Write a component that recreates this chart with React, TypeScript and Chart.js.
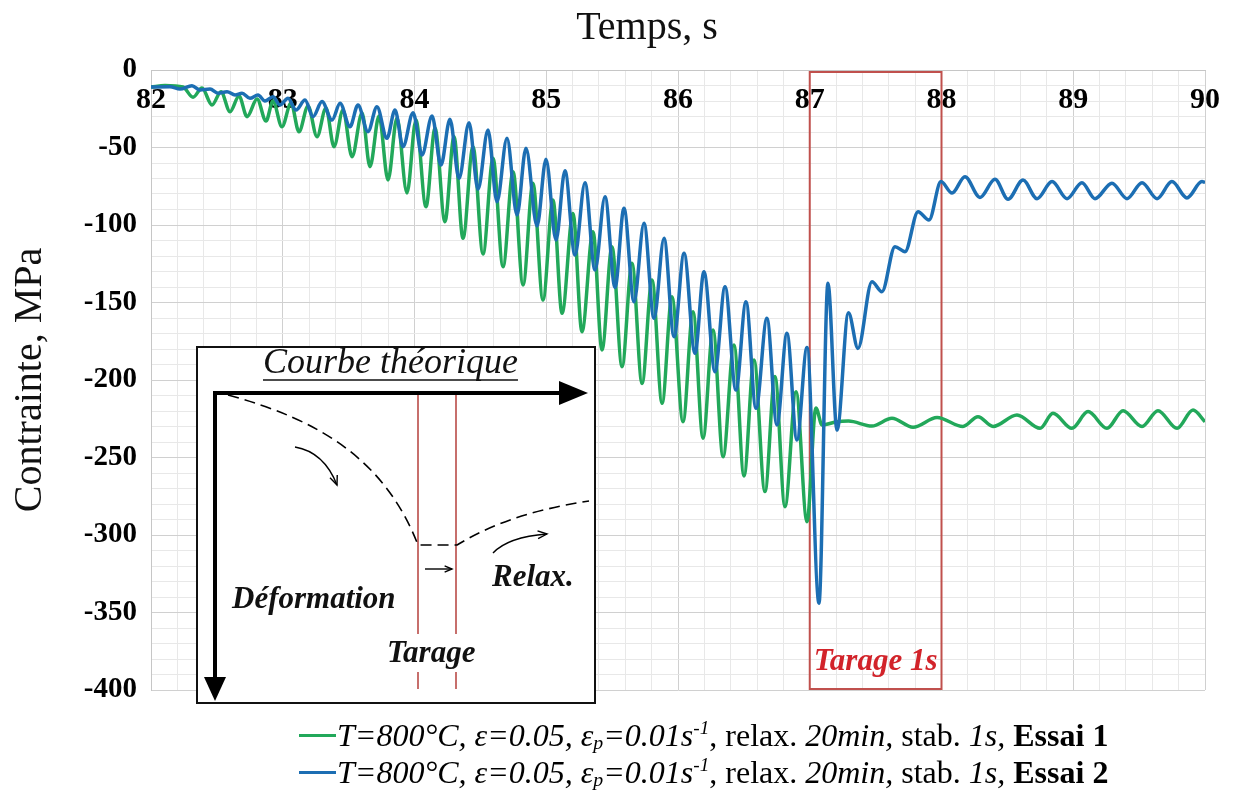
import React, { useEffect, useRef } from 'react';
import { Chart, registerables } from 'chart.js';

Chart.register(...registerables);

// ---------- data ----------
const greenTime = [
  82.0, 82.106, 82.243, 82.319, 82.387, 82.463, 82.531, 82.6, 82.668, 82.729,
  82.805, 82.873, 82.926, 82.994, 83.063, 83.123, 83.192, 83.26, 83.328, 83.389,
  83.457, 83.526, 83.602, 83.662, 83.731, 83.799, 83.867, 83.943, 84.011, 84.087,
  84.156, 84.231, 84.3, 84.368, 84.444, 84.52, 84.596, 84.672, 84.748, 84.824,
  84.899, 84.975, 85.051, 85.12, 85.203, 85.271, 85.355, 85.423, 85.499, 85.575,
  85.651, 85.727, 85.803, 85.879, 85.954, 86.038, 86.114, 86.19, 86.266, 86.342,
  86.425, 86.501, 86.577, 86.66, 86.736, 86.812, 86.896, 86.979, 87.047, 87.093,
  87.207, 87.294, 87.472, 87.624, 87.784, 87.966, 88.163, 88.277, 88.391, 88.573,
  88.748, 88.846, 88.99, 89.112, 89.256, 89.378, 89.522, 89.643, 89.788, 89.909, 90.0,
];
const greenStress = [
  -11, -10, -11, -17.6, -11.6, -22.6, -14, -26.9, -16.8, -30.1,
  -18.7, -32.9, -20, -36.6, -21.3, -39.8, -23.2, -43, -24.5, -49.5,
  -25.8, -55.9, -27.7, -62.4, -29.7, -71, -31, -79.4, -32.3, -88.2,
  -37.6, -97.9, -43, -108.6, -49.5, -118.7, -57, -126.9, -65.6, -138.7,
  -73.1, -148.4, -83.9, -157, -92.5, -168.8, -104.3, -180.6, -114, -191.4,
  -124.7, -202.2, -135.5, -215, -146.3, -226.9, -155.9, -237.6, -167.7, -249.5,
  -177.4, -261.9, -187.1, -272, -197.8, -281.7, -207.5, -291.4, -218, -229,
  -226.9, -226.5, -229.7, -224.7, -230.5, -224.2, -230, -223.7, -230, -222.6,
  -231.2, -221.5, -231.2, -220.4, -231.2, -219.8, -230, -219.8, -231.2, -219.4, -227,
];
const blueTime = [
  82.0, 82.144, 82.22, 82.311, 82.372, 82.448, 82.509, 82.577, 82.638, 82.691,
  82.751, 82.812, 82.865, 82.926, 82.979, 83.04, 83.101, 83.169, 83.23, 83.298,
  83.374, 83.435, 83.51, 83.571, 83.647, 83.715, 83.791, 83.852, 83.913, 83.989,
  84.057, 84.133, 84.201, 84.269, 84.338, 84.414, 84.482, 84.558, 84.626, 84.702,
  84.778, 84.846, 84.93, 84.998, 85.074, 85.142, 85.218, 85.294, 85.37, 85.446,
  85.522, 85.59, 85.666, 85.742, 85.818, 85.894, 85.97, 86.046, 86.129, 86.197,
  86.281, 86.357, 86.44, 86.516, 86.592, 86.675, 86.751, 86.827, 86.903, 86.979,
  87.07, 87.138, 87.207, 87.294, 87.366, 87.472, 87.548, 87.647, 87.723, 87.822,
  87.905, 87.996, 88.08, 88.178, 88.292, 88.406, 88.505, 88.619, 88.725, 88.839,
  88.953, 89.066, 89.165, 89.294, 89.408, 89.522, 89.636, 89.749, 89.863, 89.977, 90.0,
];
const blueStress = [
  -11, -10.8, -12.3, -10.1, -12.9, -12.3, -15, -14, -16.1, -15,
  -18.3, -16.1, -20, -17.2, -22.5, -18.3, -25.8, -19.4, -30.1, -20.4,
  -32.3, -21.5, -36.6, -22.6, -39.8, -23.7, -44.1, -25.8, -49.5, -27.5,
  -54.8, -29.7, -61.3, -31.8, -69.9, -34, -77, -38.7, -85, -44.1,
  -93.5, -50.5, -100.6, -57.6, -109.7, -65, -119.4, -72.7, -129, -81.7,
  -140.3, -89.2, -149.5, -98.9, -160.2, -108.6, -172.1, -118.3, -182.8, -130.1,
  -194.6, -139.8, -206.5, -149.5, -218.3, -160.2, -229, -169.9, -238.7, -179,
  -344, -137.6, -232.3, -156.6, -179.6, -136.6, -143, -114, -117.2, -91.4,
  -96.8, -72, -79.4, -68.8, -82.2, -70.5, -83.4, -71, -83, -72,
  -83, -72.7, -83, -73, -83, -72.7, -83, -72, -82.5, -72, -72.5,
];

const xMin = 82;
const xMax = 90;
const xMinorStep = 0.2;
const yMin = -400;
const yMax = 0;
const yMinorStep = 10;
const yMajorStep = 50;
const tarageStart = 87;
const tarageEnd = 88;

const seriesLabels = ['Essai 1', 'Essai 2'];
const GREEN = '#22a85a';
const BLUE = '#1c6eb3';
const FONT = "'Liberation Serif', 'Times New Roman', serif";

const near = (v: number, step: number) => Math.abs(v / step - Math.round(v / step)) < 1e-6;

function arrowHeadOpen(ctx: CanvasRenderingContext2D, tx: number, ty: number, ang: number, len: number) {
  ctx.beginPath();
  ctx.moveTo(tx - len * Math.cos(ang - 0.4), ty - len * Math.sin(ang - 0.4));
  ctx.lineTo(tx, ty);
  ctx.lineTo(tx - len * Math.cos(ang + 0.4), ty - len * Math.sin(ang + 0.4));
  ctx.stroke();
}

function drawInset(ctx: CanvasRenderingContext2D) {
  const L = 197, T = 347, W = 398, H = 356;
  ctx.save();
  ctx.fillStyle = '#ffffff';
  ctx.fillRect(L, T, W, H);
  ctx.strokeStyle = '#111';
  ctx.lineWidth = 2;
  ctx.strokeRect(L, T, W, H);

  // title
  ctx.fillStyle = '#111';
  ctx.textAlign = 'left';
  ctx.textBaseline = 'alphabetic';
  ctx.font = `italic 36px ${FONT}`;
  const title = 'Courbe théorique';
  ctx.fillText(title, 263, 373);
  const tw = ctx.measureText(title).width;
  ctx.lineWidth = 1.5;
  ctx.beginPath();
  ctx.moveTo(263, 380);
  ctx.lineTo(263 + tw, 380);
  ctx.stroke();

  // red vertical lines
  ctx.strokeStyle = '#b5403c';
  ctx.lineWidth = 1.5;
  for (const rx of [418, 456]) {
    ctx.beginPath();
    ctx.moveTo(rx, 395);
    ctx.lineTo(rx, 634);
    ctx.moveTo(rx, 672);
    ctx.lineTo(rx, 689);
    ctx.stroke();
  }

  // axes arrows
  ctx.strokeStyle = '#000';
  ctx.fillStyle = '#000';
  ctx.lineWidth = 4;
  ctx.lineCap = 'butt';
  ctx.beginPath();
  ctx.moveTo(213, 393);
  ctx.lineTo(563, 393);
  ctx.moveTo(215, 391);
  ctx.lineTo(215, 680);
  ctx.stroke();
  ctx.beginPath();
  ctx.moveTo(588, 393);
  ctx.lineTo(559, 381);
  ctx.lineTo(559, 405);
  ctx.closePath();
  ctx.fill();
  ctx.beginPath();
  ctx.moveTo(215, 701);
  ctx.lineTo(204, 677);
  ctx.lineTo(226, 677);
  ctx.closePath();
  ctx.fill();

  // dashed theoretical curve
  ctx.lineWidth = 1.6;
  ctx.setLineDash([11, 6]);
  ctx.beginPath();
  ctx.moveTo(228, 395);
  ctx.bezierCurveTo(320, 420, 385, 460, 418, 545);
  ctx.lineTo(457, 545);
  ctx.bezierCurveTo(490, 525, 530, 510, 589, 501);
  ctx.stroke();
  ctx.setLineDash([]);

  // small arrows
  ctx.lineWidth = 1.4;
  ctx.beginPath();
  ctx.moveTo(295, 447);
  ctx.quadraticCurveTo(324, 452, 337, 485);
  ctx.stroke();
  arrowHeadOpen(ctx, 337, 485, Math.atan2(33, 13), 10);
  ctx.beginPath();
  ctx.moveTo(425, 569);
  ctx.lineTo(452, 569);
  ctx.stroke();
  arrowHeadOpen(ctx, 452, 569, 0, 8);
  ctx.beginPath();
  ctx.moveTo(493, 553);
  ctx.quadraticCurveTo(508, 537, 547, 534);
  ctx.stroke();
  arrowHeadOpen(ctx, 547, 534, Math.atan2(-3, 39), 10);

  // labels
  ctx.fillStyle = '#111';
  ctx.font = `italic bold 31px ${FONT}`;
  ctx.fillText('Déformation', 232, 608);
  ctx.fillText('Relax.', 492, 586);
  ctx.fillText('Tarage', 387, 662);
  ctx.restore();
}

const overlayPlugin = {
  id: 'overlay',
  beforeDatasetsDraw(chart: any) {
    const { ctx, scales } = chart;
    const x0 = scales.x.getPixelForValue(tarageStart);
    const x1 = scales.x.getPixelForValue(tarageEnd);
    const y0 = scales.y.getPixelForValue(yMax);
    const y1 = scales.y.getPixelForValue(yMin);
    ctx.save();
    ctx.strokeStyle = '#c0504d';
    ctx.lineWidth = 2;
    ctx.strokeRect(x0, y0 + 2, x1 - x0, y1 - y0 - 3);
    ctx.restore();
  },
  afterDraw(chart: any) {
    const { ctx, scales } = chart;
    const x0 = scales.x.getPixelForValue(tarageStart);
    const x1 = scales.x.getPixelForValue(tarageEnd);
    ctx.save();
    ctx.fillStyle = '#d2232a';
    ctx.font = `italic bold 31px ${FONT}`;
    ctx.textAlign = 'center';
    ctx.textBaseline = 'alphabetic';
    ctx.fillText('Tarage 1s', (x0 + x1) / 2, 670);
    // top title
    ctx.fillStyle = '#111';
    ctx.font = `40px ${FONT}`;
    ctx.fillText('Temps, s', 647, 39);
    ctx.restore();
    drawInset(ctx);
  },
};

export default function App() {
  const ref = useRef<HTMLCanvasElement | null>(null);

  useEffect(() => {
    if (!ref.current) return;
    const chart = new Chart(ref.current, {
      type: 'line',
      data: {
        datasets: [
          {
            label: seriesLabels[0],
            data: greenTime.map((t, i) => ({ x: t, y: greenStress[i] })),
            borderColor: GREEN,
            borderWidth: 3.5,
            pointRadius: 0,
            cubicInterpolationMode: 'monotone',
            order: 1,
          },
          {
            label: seriesLabels[1],
            data: blueTime.map((t, i) => ({ x: t, y: blueStress[i] })),
            borderColor: BLUE,
            borderWidth: 3.5,
            pointRadius: 0,
            cubicInterpolationMode: 'monotone',
            order: 0,
          },
        ],
      },
      options: {
        animation: false,
        responsive: false,
        devicePixelRatio: 1,
        layout: { padding: { left: 0, top: 0, right: 35, bottom: 100 } },
        plugins: {
          legend: { display: false },
          tooltip: { enabled: false },
          title: { display: false },
        },
        scales: {
          x: {
            type: 'linear',
            position: 'top',
            min: xMin,
            max: xMax,
            afterFit: (s: any) => {
              s.height = 70;
            },
            border: { display: true, color: '#c6c6c6', width: 1 },
            grid: {
              drawTicks: false,
              lineWidth: 1,
              color: (c: any) => (c.tick && near(c.tick.value, 1) ? '#d0d0d0' : '#e8e8e8'),
            },
            ticks: {
              stepSize: xMinorStep,
              maxTicksLimit: 60,
              autoSkip: false,
              maxRotation: 0,
              minRotation: 0,
              mirror: true,
              padding: 12,
              color: '#000',
              font: { family: FONT, size: 30, weight: 'bold' },
              callback: (v: any) => (near(Number(v), 1) ? String(Math.round(Number(v))) : ''),
            },
          },
          y: {
            type: 'linear',
            position: 'left',
            min: yMin,
            max: yMax,
            afterFit: (s: any) => {
              s.width = 151;
            },
            border: { display: true, color: '#c6c6c6', width: 1 },
            grid: {
              drawTicks: false,
              lineWidth: 1,
              color: (c: any) => (c.tick && near(c.tick.value, yMajorStep) ? '#d0d0d0' : '#e8e8e8'),
            },
            title: {
              display: true,
              text: 'Contrainte, MPa',
              color: '#111',
              font: { family: FONT, size: 40, weight: 'normal' },
              padding: { top: 6, bottom: 0 },
            },
            ticks: {
              stepSize: yMinorStep,
              maxTicksLimit: 60,
              autoSkip: false,
              padding: 14,
              color: '#000',
              font: { family: FONT, size: 29, weight: 'bold' },
              callback: (v: any) => (near(Number(v), yMajorStep) ? String(Math.round(Number(v))) : ''),
            },
          },
        },
      } as any,
      plugins: [overlayPlugin],
    });
    return () => chart.destroy();
  }, []);

  const dash = (color: string) => (
    <span
      style={{
        display: 'inline-block',
        width: 37,
        height: 3,
        background: color,
        verticalAlign: 'middle',
        position: 'relative',
        top: -3,
        marginRight: 1,
      }}
    />
  );
  const sub: React.CSSProperties = { fontSize: '0.62em', verticalAlign: '-0.15em', lineHeight: 0 };
  const sup: React.CSSProperties = { fontSize: '0.6em', verticalAlign: '0.6em', lineHeight: 0 };
  const legendLine = (color: string, label: string) => (
    <div style={{ height: 37 }}>
      {dash(color)}
      <i>
        T=800°C, ε=0.05, ε<span style={sub}>p</span>=0.01s<span style={sup}>-1</span>
      </i>
      , relax. <i>20min,</i> stab. <i>1s,</i> <b>{label}</b>
    </div>
  );

  return (
    <div style={{ position: 'absolute', left: 0, top: 0, width: 1240, height: 790, background: '#fff' }}>
      <canvas ref={ref} width={1240} height={790} style={{ display: 'block', width: 1240, height: 790 }} />
      <div
        style={{
          position: 'absolute',
          left: 299,
          top: 717,
          fontFamily: FONT,
          fontSize: 32,
          lineHeight: '37px',
          color: '#000',
          whiteSpace: 'nowrap',
        }}
      >
        {legendLine(GREEN, seriesLabels[0])}
        {legendLine(BLUE, seriesLabels[1])}
      </div>
    </div>
  );
}
